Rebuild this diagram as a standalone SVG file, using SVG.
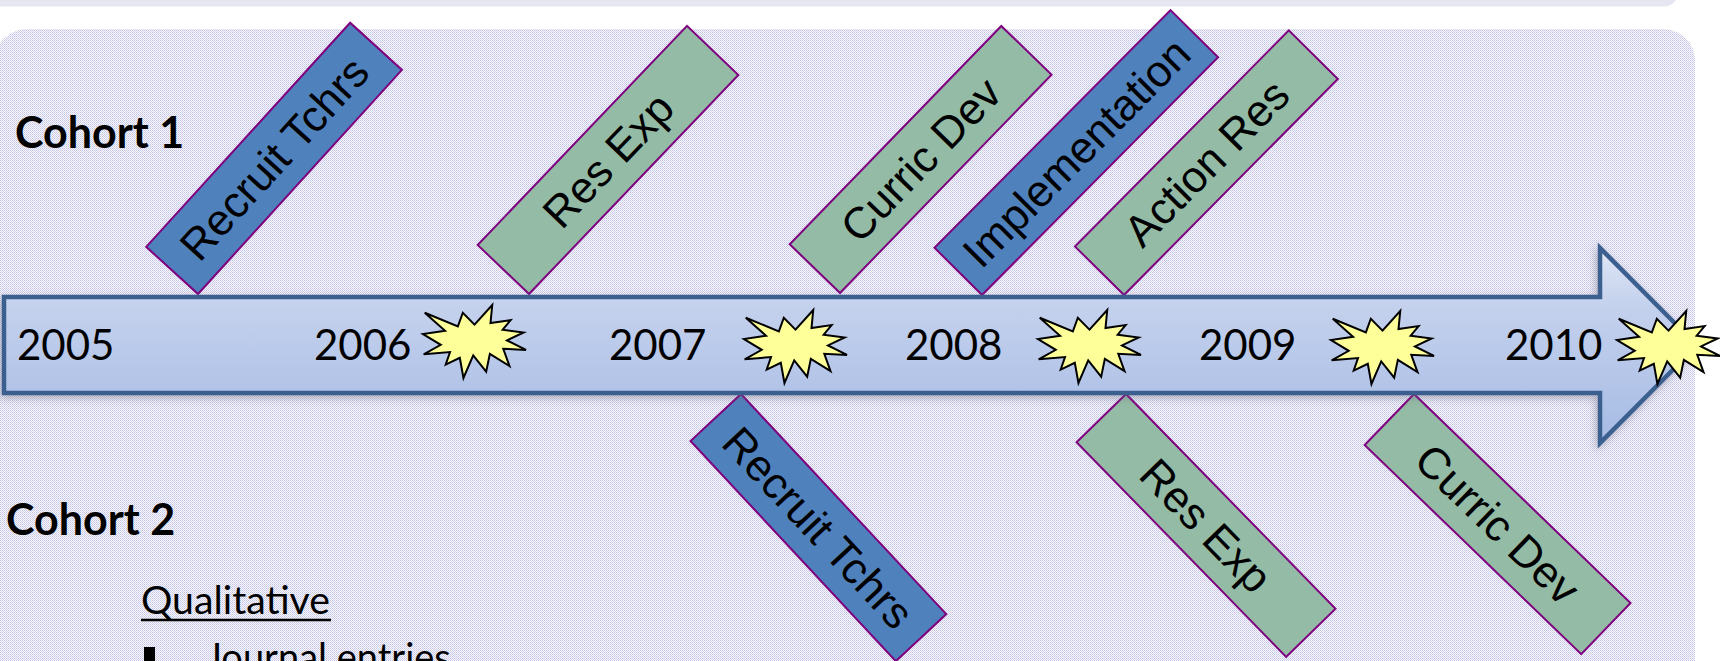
<svg xmlns="http://www.w3.org/2000/svg" xmlns:xlink="http://www.w3.org/1999/xlink" width="1720" height="661" viewBox="0 0 1720 661">
  <style>
    .band{fill:#e6e6f1}
    .box{stroke:#7f007f;stroke-width:2}
    .blue{fill:#4f81bd}
    .green{fill:#94bba5}
    .lbl{font-family:"Liberation Sans",Arial,sans-serif;font-size:44px;fill:#000;text-anchor:middle}
    .year{font-family:Lato,"Liberation Sans",sans-serif;font-size:42px;fill:#000}
    .coh{font-family:Lato,"Liberation Sans",sans-serif;font-size:43px;font-weight:bold;fill:#000}
    .body{font-family:Lato,"Liberation Sans",sans-serif;font-size:38px;fill:#000}
    .star{fill:#ffff99;stroke:#000;stroke-width:2;stroke-linejoin:miter}
  </style>
  <defs>
    <pattern id="dots" patternUnits="userSpaceOnUse" width="2" height="2">
      <rect width="2" height="2" fill="#fafafd"/>
      <rect width="1" height="1" fill="#c2c2e4"/>
      <rect x="1" y="1" width="1" height="1" fill="#d2d2ec"/>
    </pattern>
    <linearGradient id="arrowGrad" x1="0" y1="248" x2="0" y2="443" gradientUnits="userSpaceOnUse">
      <stop offset="0" stop-color="#dfe6f5"/>
      <stop offset="0.3" stop-color="#c4d1ed"/>
      <stop offset="1" stop-color="#a6bbe4"/>
    </linearGradient>
    <filter id="shadow" x="-5%" y="-30%" width="110%" height="160%">
      <feGaussianBlur in="SourceAlpha" stdDeviation="4"/>
      <feOffset dx="-2" dy="3" result="b"/>
      <feFlood flood-color="#6a6a80" flood-opacity="0.45"/>
      <feComposite in2="b" operator="in"/>
      <feMerge><feMergeNode/><feMergeNode in="SourceGraphic"/></feMerge>
    </filter>
    <path id="star" class="star" d="M51.5,19.6 L69.25,0 L67.5,18 L87.65,15.06 L79.64,24.72 L100.6,27.5 L83.96,35.4 L103,44.9 L80.29,43.74 L86.53,61.15 L66.86,48.86 L63.17,66.7 L50.22,50.47 L40.46,73 L36.79,52.81 L22.71,59.54 L27.02,47.1 L0.64,49.3 L17.75,39.79 L0,29.11 L22.06,25.74 L1.76,7.76 L34.87,21.36 L39.83,7.76 Z"/>
  </defs>

  <!-- background -->
  <rect x="0" y="0" width="1720" height="661" fill="#ffffff"/>
  <rect class="band" x="-20" y="-30" width="1698" height="36.5" rx="14"/>
  <rect x="-5" y="29" width="1700" height="700" rx="32" fill="url(#dots)"/>

  <!-- upper boxes (Cohort 1) -->
  <g id="c1-recruit" transform="translate(198,294) rotate(-47.7)">
    <rect class="box blue" x="0" y="-70" width="303" height="70"/>
    <text class="lbl" x="151.5" y="-19.5">Recruit Tchrs</text>
  </g>
  <g id="c1-resexp" transform="translate(529,294) rotate(-46.3)">
    <rect class="box green" x="0" y="-71" width="303" height="71"/>
    <text class="lbl" x="151.5" y="-20">Res Exp</text>
  </g>
  <g id="c1-curric" transform="translate(840,293) rotate(-45.9)">
    <rect class="box green" x="0" y="-70" width="304" height="70"/>
    <text class="lbl" x="152" y="-19.5">Curric Dev</text>
  </g>
  <g id="c1-impl" transform="translate(982,295) rotate(-45.2)">
    <rect class="box blue" x="0" y="-67" width="335" height="67"/>
    <text class="lbl" x="167.5" y="-18">Implementation</text>
  </g>
  <g id="c1-action" transform="translate(1124,295) rotate(-45.3)">
    <rect class="box green" x="0" y="-69" width="304" height="69"/>
    <text class="lbl" x="152" y="-19">Action Res</text>
  </g>

  <!-- lower boxes (Cohort 2) -->
  <g id="c2-recruit" transform="translate(741,394) rotate(47)">
    <rect class="box blue" x="0" y="0" width="301" height="69"/>
    <text class="lbl" x="150.5" y="50">Recruit Tchrs</text>
  </g>
  <g id="c2-resexp" transform="translate(1126,394) rotate(45.7)">
    <rect class="box green" x="0" y="0" width="300" height="69"/>
    <text class="lbl" x="150" y="50">Res Exp</text>
  </g>
  <g id="c2-curric" transform="translate(1414,394) rotate(44)">
    <rect class="box green" x="0" y="0" width="301" height="71"/>
    <text class="lbl" x="150.5" y="51">Curric Dev</text>
  </g>

  <!-- timeline arrow -->
  <g id="timeline">
    <path d="M4,297 L1600,297 L1600,248 L1697,345.5 L1600,443 L1600,393 L4,393 Z" fill="url(#arrowGrad)" stroke="#3b5f8e" stroke-width="4.5" stroke-linejoin="miter" filter="url(#shadow)"/>
    <text class="year" x="17" y="360">2005</text>
    <text class="year" x="314" y="360">2006</text>
    <text class="year" x="609" y="360">2007</text>
    <text class="year" x="905" y="360">2008</text>
    <text class="year" x="1199" y="360">2009</text>
    <text class="year" x="1505" y="360">2010</text>
  </g>

  <!-- milestone stars -->
  <g id="stars">
    <use xlink:href="#star" href="#star" transform="translate(423,305)"/>
    <use xlink:href="#star" href="#star" transform="translate(744,310)"/>
    <use xlink:href="#star" href="#star" transform="translate(1038,310)"/>
    <use xlink:href="#star" href="#star" transform="translate(1331,311)"/>
    <use xlink:href="#star" href="#star" transform="translate(1617,311)"/>
  </g>

  <!-- labels -->
  <g id="cohort1"><text class="coh" x="15" y="148">Cohort 1</text></g>
  <g id="cohort2"><text class="coh" x="6" y="535">Cohort 2</text></g>
  <g id="notes">
    <text class="body" x="141" y="614" textLength="189" lengthAdjust="spacingAndGlyphs">Qualitative</text>
    <line x1="141" y1="620" x2="331" y2="620" stroke="#000" stroke-width="2.5"/>
    <rect x="144" y="647" width="11" height="14" fill="#000"/>
    <text class="body" x="206" y="671">Journal entries</text>
  </g>
</svg>
